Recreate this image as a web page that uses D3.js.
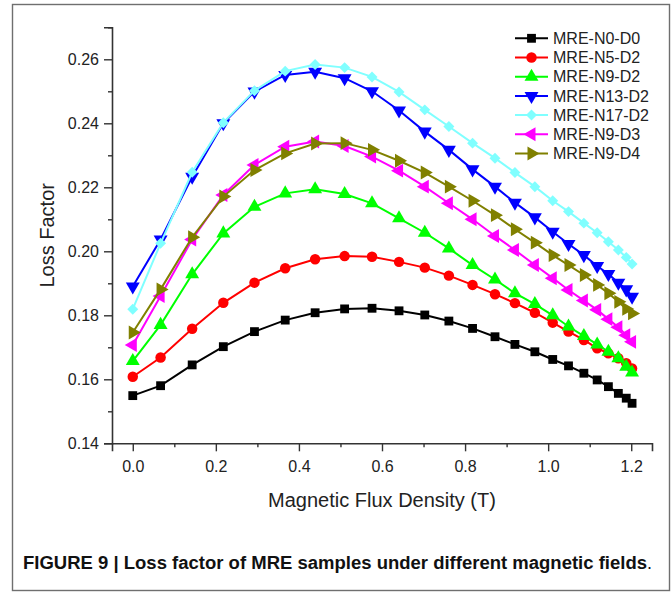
<!DOCTYPE html>
<html>
<head>
<meta charset="utf-8">
<script src="https://cdn.jsdelivr.net/npm/d3@7/dist/d3.min.js"></script>
<style>
  html, body { margin: 0; padding: 0; background: #fff; }
  svg { display: block; }
</style>
</head>
<body>
<svg id="chart" width="672" height="592"></svg>
<script>
// Magnetic flux density (T) at each measurement step
const fluxDensity = [0, 0.067, 0.143, 0.218, 0.293, 0.367, 0.439, 0.510, 0.576, 0.641, 0.703, 0.761,
                     0.818, 0.872, 0.920, 0.968, 1.011, 1.049, 1.086, 1.118, 1.145, 1.169, 1.188, 1.202];

// Loss factor of each MRE sample
const lossN0D0  = [0.1549, 0.1580, 0.1645, 0.1702, 0.1749, 0.1785, 0.1808, 0.1820, 0.1822, 0.1814, 0.1801, 0.1782,
                   0.1759, 0.1733, 0.1709, 0.1686, 0.1662, 0.1642, 0.1619, 0.1598, 0.1577, 0.1556, 0.1541, 0.1525];
const lossN5D2  = [0.1608, 0.1668, 0.1758, 0.1839, 0.1902, 0.1947, 0.1975, 0.1985, 0.1983, 0.1967, 0.1949, 0.1924,
                   0.1895, 0.1866, 0.1838, 0.1808, 0.1777, 0.1749, 0.1723, 0.1697, 0.1681, 0.1666, 0.1650, 0.1634];
const lossN9D2  = [0.1657, 0.1770, 0.1928, 0.2056, 0.2139, 0.2181, 0.2194, 0.2179, 0.2150, 0.2103, 0.2058, 0.2009,
                   0.1957, 0.1912, 0.1869, 0.1835, 0.1800, 0.1765, 0.1735, 0.1709, 0.1686, 0.1666, 0.1639, 0.1621];
const lossN13D2 = [0.1890, 0.2037, 0.2233, 0.2400, 0.2499, 0.2551, 0.2561, 0.2541, 0.2500, 0.2440, 0.2374, 0.2317,
                   0.2256, 0.2202, 0.2152, 0.2106, 0.2061, 0.2023, 0.1988, 0.1954, 0.1929, 0.1902, 0.1881, 0.1858];
const lossN17D2 = [0.1819, 0.2025, 0.2247, 0.2402, 0.2502, 0.2563, 0.2584, 0.2574, 0.2545, 0.2498, 0.2442, 0.2390,
                   0.2338, 0.2291, 0.2246, 0.2202, 0.2158, 0.2124, 0.2088, 0.2058, 0.2030, 0.2004, 0.1981, 0.1960];
const lossN9D3  = [0.1707, 0.1860, 0.2037, 0.2176, 0.2270, 0.2327, 0.2343, 0.2329, 0.2296, 0.2252, 0.2202, 0.2150,
                   0.2100, 0.2048, 0.2004, 0.1957, 0.1916, 0.1879, 0.1846, 0.1817, 0.1788, 0.1763, 0.1738, 0.1717];
const lossN9D4  = [0.1746, 0.1881, 0.2044, 0.2171, 0.2254, 0.2306, 0.2337, 0.2338, 0.2317, 0.2283, 0.2246, 0.2202,
                   0.2158, 0.2113, 0.2069, 0.2027, 0.1988, 0.1957, 0.1926, 0.1895, 0.1869, 0.1842, 0.1820, 0.1806];

const sampleNames = ["MRE-N0-D0", "MRE-N5-D2", "MRE-N9-D2", "MRE-N13-D2", "MRE-N17-D2", "MRE-N9-D3", "MRE-N9-D4"];

const xMajorTicks = [0, 0.2, 0.4, 0.6, 0.8, 1.0, 1.2];
const xMinorTicks = [0.1, 0.3, 0.5, 0.7, 0.9, 1.1];
const yMajorTicks = [0.14, 0.16, 0.18, 0.20, 0.22, 0.24, 0.26];
const yMinorTicks = [0.15, 0.17, 0.19, 0.21, 0.23, 0.25, 0.27];

const xTitle = "Magnetic Flux Density (T)";
const yTitle = "Loss Factor";
const captionText = "FIGURE 9 | Loss factor of MRE samples under different magnetic fields";

// Styling for each series: colour and marker
const styles = [
  { color: "#000000", shape: d3.symbolSquare,   size: 78, rotate: 0 },
  { color: "#ff0000", shape: d3.symbolCircle,   size: 86, rotate: 0 },
  { color: "#00ff00", shape: d3.symbolTriangle, size: 84, rotate: 0 },
  { color: "#0000ff", shape: d3.symbolTriangle, size: 84, rotate: 180 },
  { color: "#80ffff", shape: d3.symbolSquare,   size: 60, rotate: 45 },
  { color: "#ff00ff", shape: d3.symbolTriangle, size: 84, rotate: -90 },
  { color: "#808000", shape: d3.symbolTriangle, size: 84, rotate: 90 }
];

const seriesValues = [lossN0D0, lossN5D2, lossN9D2, lossN13D2, lossN17D2, lossN9D3, lossN9D4];
const series = sampleNames.map((name, i) => ({
  name,
  style: styles[i],
  points: fluxDensity.map((b, j) => ({ b, v: seriesValues[i][j] }))
}));

const FONT = "'Liberation Sans', Arial, Helvetica, sans-serif";
const svg = d3.select("#chart");

// Figure frame
svg.append("rect")
  .attr("x", 12.5).attr("y", 4.5)
  .attr("width", 657).attr("height", 586)
  .attr("fill", "none").attr("stroke", "#6f6f6f").attr("stroke-width", 1.4);

const x = d3.scaleLinear().domain([-0.05, 1.25]).range([112, 652]);
const y = d3.scaleLinear().domain([0.14, 0.27]).range([443.3, 27.3]);

const axisColor = "#333";

// X axis
const gx = svg.append("g").attr("transform", `translate(0,${y(0.14)})`);
gx.call(d3.axisBottom(x).tickValues(xMajorTicks).tickSize(8).tickPadding(9)
  .tickFormat(d3.format(".1f")));
gx.append("g").call(d3.axisBottom(x).tickValues(xMinorTicks).tickSize(4).tickFormat(""))
  .select(".domain").remove();

// Y axis
const gy = svg.append("g").attr("transform", `translate(${x(-0.05)},0)`);
gy.call(d3.axisLeft(y).tickValues(yMajorTicks).tickSize(8).tickPadding(5)
  .tickFormat(d3.format(".2f")));
gy.append("g").call(d3.axisLeft(y).tickValues(yMinorTicks).tickSize(4).tickFormat(""))
  .select(".domain").remove();

[gx, gy].forEach(g => {
  g.selectAll(".domain").attr("stroke", axisColor).attr("stroke-width", 1.6);
  g.selectAll(".tick line").attr("stroke", axisColor).attr("stroke-width", 1.4);
  g.selectAll(".tick text").attr("fill", "#222").style("font-family", FONT).style("font-size", "16px");
});

// Axis titles
svg.append("text")
  .attr("x", (x(-0.05) + x(1.25)) / 2).attr("y", 507)
  .attr("text-anchor", "middle")
  .style("font-family", FONT).style("font-size", "20px").attr("fill", "#222")
  .text(xTitle);

svg.append("text")
  .attr("transform", `translate(54,${(y(0.14) + y(0.27)) / 2}) rotate(-90)`)
  .attr("text-anchor", "middle")
  .style("font-family", FONT).style("font-size", "20px").attr("fill", "#222")
  .text(yTitle);

// Lines and markers
const line = d3.line().x(d => x(d.b)).y(d => y(d.v));

series.forEach(s => {
  const g = svg.append("g");
  g.append("path").datum(s.points)
    .attr("d", line)
    .attr("fill", "none").attr("stroke", s.style.color).attr("stroke-width", 2);
  const sym = d3.symbol().type(s.style.shape).size(s.style.size);
  g.selectAll("path.mk").data(s.points).join("path")
    .attr("class", "mk")
    .attr("d", sym)
    .attr("transform", d => `translate(${x(d.b)},${y(d.v)}) rotate(${s.style.rotate})`)
    .attr("fill", s.style.color);
});

// Legend
const legend = svg.append("g");
series.forEach((s, i) => {
  const ly = 38.3 + i * 19.2;
  legend.append("line")
    .attr("x1", 515).attr("x2", 548).attr("y1", ly).attr("y2", ly)
    .attr("stroke", s.style.color).attr("stroke-width", 2);
  legend.append("path")
    .attr("d", d3.symbol().type(s.style.shape).size(s.style.size)())
    .attr("transform", `translate(531.5,${ly}) rotate(${s.style.rotate})`)
    .attr("fill", s.style.color);
  legend.append("text")
    .attr("x", 553).attr("y", ly).attr("dy", "0.36em")
    .style("font-family", FONT).style("font-size", "16px").attr("fill", "#222")
    .text(s.name);
});

// Caption
const cap = svg.append("text")
  .attr("x", 23).attr("y", 569)
  .style("font-family", FONT).style("font-size", "18px").attr("fill", "#111");
cap.append("tspan").style("font-weight", "bold")
  .attr("textLength", 624).attr("lengthAdjust", "spacingAndGlyphs")
  .text(captionText);
cap.append("tspan").text(".");
</script>
</body>
</html>
